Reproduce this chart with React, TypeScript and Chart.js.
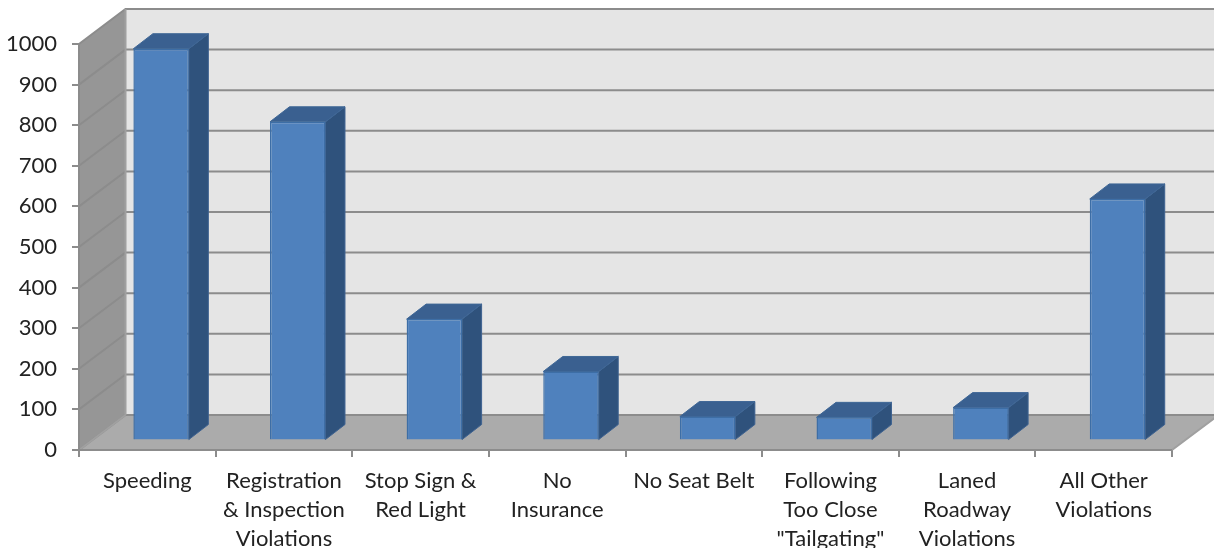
import React, { useEffect, useRef } from "react";
import { Chart, registerables } from "chart.js";

Chart.register(...registerables);

const categories: string[][] = [
  ["Speeding"],
  ["Registration", "& Inspection", "Violations"],
  ["Stop Sign &", "Red Light"],
  ["No", "Insurance"],
  ["No Seat Belt"],
  ["Following", "Too Close", "\"Tailgating\""],
  ["Laned", "Roadway", "Violations"],
  ["All Other", "Violations"],
];
const citations: number[] = [965, 785, 299, 170, 59, 57, 81, 595];

const FONT = "Lato";
const WALL_DX = 46.5;
const WALL_DY = 35;
const BAR_SHIFT_X = 13.8;
const BAR_SHIFT_Y = 9.5;
const BAR_DX = 19.5;
const BAR_DY = 15;

function poly(ctx: CanvasRenderingContext2D, pts: number[][], fill: string, stroke?: string, lw = 1) {
  ctx.beginPath();
  pts.forEach(([x, y], i) => (i ? ctx.lineTo(x, y) : ctx.moveTo(x, y)));
  ctx.closePath();
  ctx.fillStyle = fill;
  ctx.fill();
  if (stroke) {
    ctx.strokeStyle = stroke;
    ctx.lineWidth = lw;
    ctx.stroke();
  }
}

const box3d = {
  id: "box3d",
  beforeDatasetsDraw(chart: any) {
    const { ctx, chartArea: a, scales } = chart;
    const { left: l, right: r, top: t, bottom: b } = a;
    ctx.save();
    // back wall
    poly(ctx, [[l + WALL_DX, t - WALL_DY], [r + WALL_DX, t - WALL_DY], [r + WALL_DX, b - WALL_DY], [l + WALL_DX, b - WALL_DY]], "#e5e5e5");
    // side wall
    poly(ctx, [[l, t], [l + WALL_DX, t - WALL_DY], [l + WALL_DX, b - WALL_DY], [l, b]], "#969696");
    // floor
    poly(ctx, [[l, b], [l + WALL_DX, b - WALL_DY], [r + WALL_DX, b - WALL_DY], [r, b]], "#ababab");
    // grid on walls
    for (const tick of scales.y.ticks) {
      const y = scales.y.getPixelForValue(tick.value);
      ctx.strokeStyle = "#8c8c8c";
      ctx.lineWidth = 2;
      ctx.beginPath();
      ctx.moveTo(l, y);
      ctx.lineTo(l + WALL_DX, y - WALL_DY);
      ctx.lineTo(r + WALL_DX, y - WALL_DY);
      ctx.stroke();
    }
    ctx.strokeStyle = "#a0a0a0";
    ctx.lineWidth = 2;
    ctx.beginPath();
    ctx.moveTo(l + WALL_DX, t - WALL_DY);
    ctx.lineTo(l + WALL_DX, b - WALL_DY);
    ctx.moveTo(l, b);
    ctx.lineTo(l + WALL_DX, b - WALL_DY);
    ctx.moveTo(r, b);
    ctx.lineTo(r + WALL_DX, b - WALL_DY);
    ctx.stroke();
    ctx.strokeStyle = "#8c8c8c";
    ctx.lineWidth = 2;
    ctx.beginPath();
    ctx.moveTo(l, t);
    ctx.lineTo(l, b);
    ctx.lineTo(r, b);
    ctx.stroke();
    ctx.restore();

    // bar sides and tops, taken from the bar elements
    ctx.save();
    ctx.translate(BAR_SHIFT_X, -BAR_SHIFT_Y);
    for (const el of chart.getDatasetMeta(0).data) {
      const x1 = el.x - el.width / 2;
      const x2 = el.x + el.width / 2;
      const top = el.y;
      const base = el.base;
      poly(ctx, [[x2, top], [x2 + BAR_DX, top - BAR_DY], [x2 + BAR_DX, base - BAR_DY], [x2, base]], "#2f527c", "#3f6391", 1);
      poly(ctx, [[x1, top], [x1 + BAR_DX, top - BAR_DY], [x2 + BAR_DX, top - BAR_DY], [x2, top]], "#3a6090", "#3f6796", 1);
    }
    ctx.restore();

    // front faces are drawn by the chart, moved onto the middle of the floor
    ctx.save();
    ctx.translate(BAR_SHIFT_X, -BAR_SHIFT_Y);
  },
  afterDatasetsDraw(chart: any) {
    chart.ctx.restore();
  },
};

export default function App() {
  const ref = useRef<HTMLCanvasElement>(null);
  useEffect(() => {
    document.body.style.margin = "0";
    const chart = new Chart(ref.current as HTMLCanvasElement, {
      type: "bar",
      data: {
        labels: categories as any,
        datasets: [
          {
            data: citations,
            backgroundColor: "#4f81bd",
            borderColor: "#3d6ea6",
            borderWidth: 1.5,
            barPercentage: 0.406,
            categoryPercentage: 1,
            clip: false as any,
          },
        ],
      },
      options: {
        animation: false,
        responsive: false,
        devicePixelRatio: 1,
        layout: { padding: { top: 44, right: 42, left: 0, bottom: 0 } },
        plugins: { legend: { display: false }, tooltip: { enabled: false } },
        scales: {
          x: {
            afterFit: (s: any) => {
              s.height = 98;
            },
            grid: { drawOnChartArea: false, drawTicks: true, tickLength: 7, color: "#8c8c8c", lineWidth: 2 },
            border: { display: false },
            ticks: {
              autoSkip: false,
              maxRotation: 0,
              minRotation: 0,
              padding: 9,
              color: "#222222",
              font: { family: FONT, size: 22, lineHeight: 1.32 },
            },
          },
          y: {
            min: 0,
            max: 1000,
            afterFit: (s: any) => {
              s.width = 79;
            },
            grid: { drawOnChartArea: false, drawTicks: true, tickLength: 7, color: "#8c8c8c", lineWidth: 2 },
            border: { display: false },
            ticks: {
              stepSize: 100,
              padding: 15,
              color: "#222222",
              font: { family: FONT, size: 22 },
              callback: (v: any) => String(v),
            },
          },
        },
      },
      plugins: [box3d],
    });
    return () => chart.destroy();
  }, []);
  return <canvas ref={ref} width={1214} height={548} style={{ display: "block" }} />;
}
